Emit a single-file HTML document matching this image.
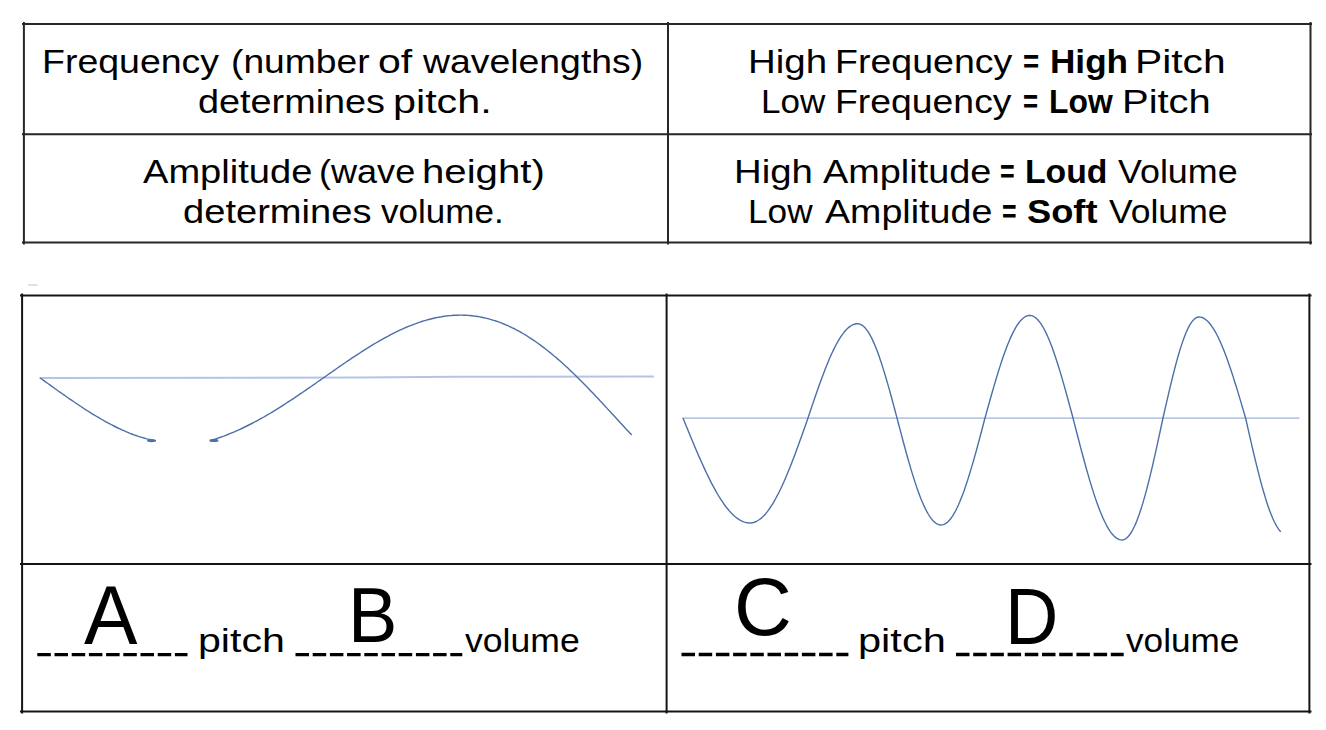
<!DOCTYPE html>
<html><head><meta charset="utf-8"><style>
html,body{margin:0;padding:0;background:#fff;width:1326px;height:730px;overflow:hidden}
.t{position:absolute;white-space:nowrap;font-family:"Liberation Sans",sans-serif;line-height:1;color:#000;transform-origin:0 0}
b{font-weight:bold}
</style></head><body>
<svg width="1326" height="730" viewBox="0 0 1326 730" style="position:absolute;left:0;top:0"><g stroke="#262626" stroke-width="2" fill="none">
<path d="M22,24 H1312 M22,134.2 H1312 M22,242.4 H1312"/>
<path d="M23.9,22 V244.4 M668,22 V244.4 M1310.5,22 V244.4"/>
</g>
<g stroke="#141414" stroke-width="2" fill="none">
<path d="M20,295.5 H1311.5 M20,564 H1311.5 M20,711.6 H1311.5"/>
<path d="M22.1,293.5 V713.6 M666.6,293.5 V713.6 M1309.4,293.5 V713.6"/>
</g>
<path d="M39.5,377.9 L360,377.6 L457,376.8 L653.9,376.5" stroke="#b2c6e4" stroke-width="2" fill="none"/>
<path d="M682.5,418.1 L1299.4,418.1" stroke="#b6cae8" stroke-width="1.8" fill="none"/>
<path d="M39.9,377.8 L41.9,379.2 L43.9,380.6 L45.9,382.1 L47.9,383.5 L49.9,384.9 L51.9,386.4 L53.9,387.8 L55.9,389.2 L57.9,390.7 L59.9,392.1 L61.9,393.5 L63.9,394.9 L65.9,396.3 L67.9,397.7 L69.9,399.1 L71.9,400.4 L73.9,401.8 L75.9,403.2 L77.9,404.5 L79.9,405.8 L81.9,407.2 L83.9,408.5 L85.9,409.8 L87.9,411.0 L89.9,412.3 L91.9,413.6 L93.9,414.8 L95.9,416.0 L97.9,417.2 L99.9,418.4 L101.9,419.5 L103.9,420.7 L105.9,421.8 L107.9,422.9 L109.9,423.9 L111.9,425.0 L113.9,426.0 L115.9,427.0 L117.9,428.0 L119.9,428.9 L121.9,429.9 L123.9,430.7 L125.9,431.6 L127.9,432.4 L129.9,433.3 L131.9,434.0 L133.9,434.8 L135.9,435.5 L137.9,436.2 L139.9,436.8 L141.9,437.4 L143.9,438.0 L145.9,438.6 L147.9,439.1 L149.9,439.5 L151.9,440.0 L153.9,440.4 L155.8,440.7" stroke="#4d6fa9" stroke-width="1.4" fill="none"/>
<path d="M209.8,440.8 L211.8,440.2 L213.8,439.6 L215.8,438.9 L217.8,438.2 L219.8,437.5 L221.8,436.8 L223.8,436.1 L225.8,435.3 L227.8,434.5 L229.8,433.7 L231.8,432.9 L233.8,432.1 L235.8,431.2 L237.8,430.3 L239.8,429.4 L241.8,428.5 L243.8,427.5 L245.8,426.5 L247.8,425.5 L249.8,424.5 L251.8,423.5 L253.8,422.5 L255.8,421.4 L257.8,420.3 L259.8,419.2 L261.8,418.1 L263.8,417.0 L265.8,415.8 L267.8,414.7 L269.8,413.5 L271.8,412.3 L273.8,411.1 L275.8,409.9 L277.8,408.6 L279.8,407.4 L281.8,406.1 L283.8,404.8 L285.8,403.5 L287.8,402.2 L289.8,400.9 L291.8,399.6 L293.8,398.3 L295.8,396.9 L297.8,395.6 L299.8,394.2 L301.8,392.9 L303.8,391.5 L305.8,390.1 L307.8,388.7 L309.8,387.4 L311.8,386.0 L313.8,384.6 L315.8,383.2 L317.8,381.8 L319.8,380.4 L321.8,379.0 L323.8,377.6 L325.8,376.2 L327.8,374.8 L329.8,373.4 L331.8,372.0 L333.8,370.6 L335.8,369.2 L337.8,367.8 L339.8,366.4 L341.8,365.0 L343.8,363.7 L345.8,362.3 L347.8,360.9 L349.8,359.6 L351.8,358.2 L353.8,356.9 L355.8,355.6 L357.8,354.3 L359.8,353.0 L361.8,351.7 L363.8,350.4 L365.8,349.1 L367.8,347.9 L369.8,346.6 L371.8,345.4 L373.8,344.2 L375.8,343.0 L377.8,341.9 L379.8,340.7 L381.8,339.6 L383.8,338.4 L385.8,337.3 L387.8,336.3 L389.8,335.2 L391.8,334.2 L393.8,333.1 L395.8,332.2 L397.8,331.2 L399.8,330.2 L401.8,329.3 L403.8,328.4 L405.8,327.5 L407.8,326.7 L409.8,325.9 L411.8,325.1 L413.8,324.3 L415.8,323.6 L417.8,322.8 L419.8,322.2 L421.8,321.5 L423.8,320.9 L425.8,320.3 L427.8,319.7 L429.8,319.2 L431.8,318.7 L433.8,318.2 L435.8,317.8 L437.8,317.4 L439.8,317.0 L441.8,316.7 L443.8,316.3 L445.8,316.1 L447.8,315.8 L449.8,315.6 L451.8,315.5 L453.8,315.3 L455.8,315.2 L457.8,315.2 L459.8,315.1 L461.8,315.1 L463.8,315.2 L465.8,315.3 L467.8,315.4 L469.8,315.5 L471.8,315.7 L473.8,316.0 L475.8,316.2 L477.8,316.5 L479.8,316.9 L481.8,317.3 L483.8,317.7 L485.8,318.1 L487.8,318.6 L489.8,319.2 L491.8,319.8 L493.8,320.4 L495.8,321.0 L497.8,321.7 L499.8,322.4 L501.8,323.2 L503.8,324.0 L505.8,324.8 L507.8,325.7 L509.8,326.6 L511.8,327.6 L513.8,328.5 L515.8,329.6 L517.8,330.6 L519.8,331.7 L521.8,332.9 L523.8,334.0 L525.8,335.2 L527.8,336.5 L529.8,337.8 L531.8,339.1 L533.8,340.4 L535.8,341.8 L537.8,343.2 L539.8,344.6 L541.8,346.1 L543.8,347.6 L545.8,349.2 L547.8,350.8 L549.8,352.4 L551.8,354.0 L553.8,355.7 L555.8,357.3 L557.8,359.1 L559.8,360.8 L561.8,362.6 L563.8,364.4 L565.8,366.2 L567.8,368.1 L569.8,370.0 L571.8,371.9 L573.8,373.8 L575.8,375.7 L577.8,377.7 L579.8,379.7 L581.8,381.7 L583.8,383.7 L585.8,385.8 L587.8,387.8 L589.8,389.9 L591.8,392.0 L593.8,394.1 L595.8,396.2 L597.8,398.3 L599.8,400.5 L601.8,402.6 L603.8,404.8 L605.8,406.9 L607.8,409.1 L609.8,411.3 L611.8,413.5 L613.8,415.6 L615.8,417.8 L617.8,420.0 L619.8,422.2 L621.8,424.3 L623.8,426.5 L625.8,428.7 L627.8,430.8 L629.8,433.0 L631.7,435.0" stroke="#4d6fa9" stroke-width="1.4" fill="none"/>
<path d="M683.0,418.0 L684.5,421.7 L686.0,425.4 L687.5,429.1 L689.0,432.7 L690.5,436.4 L692.0,440.0 L693.5,443.6 L695.0,447.2 L696.5,450.7 L698.0,454.2 L699.5,457.6 L701.0,461.0 L702.5,464.3 L704.0,467.6 L705.5,470.9 L707.0,474.0 L708.5,477.1 L710.0,480.1 L711.5,483.1 L713.0,485.9 L714.5,488.7 L716.0,491.4 L717.5,494.0 L719.0,496.5 L720.5,498.9 L722.0,501.2 L723.5,503.4 L725.0,505.5 L726.5,507.5 L728.0,509.3 L729.5,511.1 L731.0,512.8 L732.5,514.3 L734.0,515.7 L735.5,517.0 L737.0,518.2 L738.5,519.2 L740.0,520.1 L741.5,520.9 L743.0,521.6 L744.5,522.1 L746.0,522.5 L747.5,522.8 L749.0,523.0 L750.5,523.0 L752.0,522.8 L753.5,522.5 L755.0,522.0 L756.5,521.4 L758.0,520.5 L759.5,519.5 L761.0,518.4 L762.5,517.0 L764.0,515.5 L765.5,513.9 L767.0,512.1 L768.5,510.1 L770.0,508.0 L771.5,505.7 L773.0,503.3 L774.5,500.7 L776.0,498.0 L777.5,495.2 L779.0,492.2 L780.5,489.2 L782.0,486.0 L783.5,482.7 L785.0,479.3 L786.5,475.7 L788.0,472.1 L789.5,468.4 L791.0,464.7 L792.5,460.8 L794.0,456.9 L795.5,452.9 L797.0,448.8 L798.5,444.7 L800.0,440.6 L801.5,436.4 L803.0,432.2 L804.5,427.9 L806.0,423.7 L807.5,419.4 L808.0,418.0 L809.5,413.5 L811.0,409.1 L812.5,404.6 L814.0,400.2 L815.5,395.8 L817.0,391.5 L818.5,387.2 L820.0,383.0 L821.5,378.9 L823.0,374.9 L824.5,370.9 L826.0,367.1 L827.5,363.4 L829.0,359.8 L830.5,356.3 L832.0,353.0 L833.5,349.9 L835.0,346.8 L836.5,344.0 L838.0,341.3 L839.5,338.8 L841.0,336.4 L842.5,334.3 L844.0,332.3 L845.5,330.5 L847.0,329.0 L848.5,327.6 L850.0,326.4 L851.5,325.5 L853.0,324.7 L854.5,324.2 L856.0,323.8 L857.5,323.7 L859.0,323.8 L860.5,324.3 L862.0,325.1 L863.5,326.3 L865.0,327.8 L866.5,329.6 L868.0,331.7 L869.5,334.1 L871.0,336.8 L872.5,339.9 L874.0,343.1 L875.5,346.7 L877.0,350.5 L878.5,354.6 L880.0,358.9 L881.5,363.4 L883.0,368.1 L884.5,372.9 L886.0,378.0 L887.5,383.1 L889.0,388.4 L890.5,393.8 L892.0,399.3 L893.5,404.9 L895.0,410.5 L896.5,416.1 L897.0,418.0 L898.5,423.7 L900.0,429.4 L901.5,435.1 L903.0,440.7 L904.5,446.3 L906.0,451.8 L907.5,457.2 L909.0,462.4 L910.5,467.6 L912.0,472.6 L913.5,477.4 L915.0,482.1 L916.5,486.6 L918.0,490.9 L919.5,495.0 L921.0,498.9 L922.5,502.5 L924.0,505.9 L925.5,509.0 L927.0,511.9 L928.5,514.5 L930.0,516.9 L931.5,518.9 L933.0,520.7 L934.5,522.1 L936.0,523.3 L937.5,524.2 L939.0,524.7 L940.5,525.0 L942.0,524.9 L943.5,524.6 L945.0,523.9 L946.5,522.9 L948.0,521.7 L949.5,520.1 L951.0,518.3 L952.5,516.1 L954.0,513.7 L955.5,511.0 L957.0,508.0 L958.5,504.8 L960.0,501.3 L961.5,497.6 L963.0,493.7 L964.5,489.5 L966.0,485.1 L967.5,480.6 L969.0,475.8 L970.5,470.9 L972.0,465.9 L973.5,460.7 L975.0,455.4 L976.5,450.0 L978.0,444.5 L979.5,438.9 L981.0,433.2 L982.5,427.5 L984.0,421.8 L985.0,418.0 L986.5,412.6 L988.0,407.2 L989.5,401.8 L991.0,396.5 L992.5,391.3 L994.0,386.1 L995.5,381.0 L997.0,376.0 L998.5,371.1 L1000.0,366.4 L1001.5,361.8 L1003.0,357.3 L1004.5,353.1 L1006.0,349.0 L1007.5,345.1 L1009.0,341.4 L1010.5,337.9 L1012.0,334.6 L1013.5,331.6 L1015.0,328.8 L1016.5,326.2 L1018.0,324.0 L1019.5,321.9 L1021.0,320.2 L1022.5,318.7 L1024.0,317.5 L1025.5,316.5 L1027.0,315.9 L1028.5,315.5 L1030.0,315.4 L1031.5,315.6 L1033.0,316.1 L1034.5,317.0 L1036.0,318.1 L1037.5,319.5 L1039.0,321.2 L1040.5,323.2 L1042.0,325.4 L1043.5,328.0 L1045.0,330.8 L1046.5,333.9 L1048.0,337.2 L1049.5,340.7 L1051.0,344.5 L1052.5,348.5 L1054.0,352.7 L1055.5,357.2 L1057.0,361.7 L1058.5,366.5 L1060.0,371.4 L1061.5,376.4 L1063.0,381.6 L1064.5,386.9 L1066.0,392.2 L1067.5,397.7 L1069.0,403.2 L1070.5,408.7 L1072.0,414.3 L1073.0,418.0 L1074.5,423.9 L1076.0,429.7 L1077.5,435.5 L1079.0,441.3 L1080.5,447.1 L1082.0,452.7 L1083.5,458.3 L1085.0,463.8 L1086.5,469.2 L1088.0,474.4 L1089.5,479.6 L1091.0,484.6 L1092.5,489.4 L1094.0,494.1 L1095.5,498.6 L1097.0,502.9 L1098.5,507.0 L1100.0,510.9 L1101.5,514.6 L1103.0,518.1 L1104.5,521.3 L1106.0,524.3 L1107.5,527.1 L1109.0,529.6 L1110.5,531.8 L1112.0,533.8 L1113.5,535.5 L1115.0,536.9 L1116.5,538.1 L1118.0,539.0 L1119.5,539.6 L1121.0,539.9 L1122.5,540.0 L1124.0,539.6 L1125.5,538.9 L1127.0,537.8 L1128.5,536.2 L1130.0,534.3 L1131.5,532.0 L1133.0,529.3 L1134.5,526.3 L1136.0,522.9 L1137.5,519.1 L1139.0,515.0 L1140.5,510.6 L1142.0,505.9 L1143.5,500.9 L1145.0,495.6 L1146.5,490.1 L1148.0,484.3 L1149.5,478.3 L1151.0,472.1 L1152.5,465.8 L1154.0,459.2 L1155.5,452.6 L1157.0,445.8 L1158.5,438.9 L1160.0,432.0 L1161.5,425.0 L1163.0,418.0 L1164.5,411.4 L1166.0,404.8 L1167.5,398.3 L1169.0,391.9 L1170.5,385.5 L1172.0,379.3 L1173.5,373.3 L1175.0,367.5 L1176.5,361.9 L1178.0,356.5 L1179.5,351.4 L1181.0,346.6 L1182.5,342.1 L1184.0,337.9 L1185.5,334.0 L1187.0,330.5 L1188.5,327.4 L1190.0,324.7 L1191.5,322.4 L1193.0,320.4 L1194.5,318.9 L1196.0,317.9 L1197.5,317.2 L1199.0,317.0 L1200.5,317.1 L1202.0,317.5 L1203.5,318.2 L1205.0,319.1 L1206.5,320.2 L1208.0,321.6 L1209.5,323.3 L1211.0,325.2 L1212.5,327.3 L1214.0,329.6 L1215.5,332.2 L1217.0,335.0 L1218.5,338.0 L1220.0,341.3 L1221.5,344.7 L1223.0,348.3 L1224.5,352.1 L1226.0,356.0 L1227.5,360.1 L1229.0,364.4 L1230.5,368.8 L1232.0,373.3 L1233.5,377.9 L1235.0,382.7 L1236.5,387.5 L1238.0,392.4 L1239.5,397.4 L1241.0,402.4 L1242.5,407.5 L1244.0,412.6 L1245.5,417.7 L1245.6,418.0 L1247.1,424.7 L1248.6,431.3 L1250.1,437.9 L1251.6,444.4 L1253.1,450.8 L1254.6,457.2 L1256.1,463.4 L1257.6,469.4 L1259.1,475.3 L1260.6,481.1 L1262.1,486.6 L1263.6,491.8 L1265.1,496.9 L1266.6,501.7 L1268.1,506.2 L1269.6,510.4 L1271.1,514.3 L1272.6,518.0 L1274.1,521.3 L1275.6,524.2 L1277.1,526.8 L1278.6,529.1 L1280.1,531.0 L1280.5,532.0" stroke="#4d6fa9" stroke-width="1.4" fill="none" stroke-linejoin="round"/>
<ellipse cx="151.5" cy="440.6" rx="4.5" ry="1.7" fill="#4d6fa9"/>
<ellipse cx="214" cy="440.4" rx="4.5" ry="1.7" fill="#4d6fa9"/>
<path d="M37.3,654.7 H187.5" stroke="#000" stroke-width="3.3" stroke-dasharray="13.5 3.7" fill="none"/>
<path d="M295.5,654.7 H462.3" stroke="#000" stroke-width="3.3" stroke-dasharray="13.5 3.7" fill="none"/>
<path d="M681.5,654.5 H848.4" stroke="#000" stroke-width="3.3" stroke-dasharray="13.5 3.7" fill="none"/>
<path d="M956,654.5 H1123.7" stroke="#000" stroke-width="3.3" stroke-dasharray="13.5 3.7" fill="none"/>
<path d="M28,285 H37.5" stroke="#cfc7bd" stroke-width="1.1"/></svg>
<div class="t" style="left:42.49px;top:43.60px;font-size:34px;transform:scaleX(1.1025)">Frequency</div>
<div class="t" style="left:230.71px;top:43.60px;font-size:34px;transform:scaleX(1.0944)">(number</div>
<div class="t" style="left:378.29px;top:43.60px;font-size:34px;transform:scaleX(1.2071)">of</div>
<div class="t" style="left:422.90px;top:43.60px;font-size:34px;transform:scaleX(1.0990)">wavelengths)</div>
<div class="t" style="left:198.29px;top:83.80px;font-size:34px;transform:scaleX(1.1120)">determines</div>
<div class="t" style="left:393.27px;top:83.80px;font-size:34px;transform:scaleX(1.2145)">pitch.</div>
<div class="t" style="left:748.41px;top:43.60px;font-size:34px;transform:scaleX(1.1308)">High</div>
<div class="t" style="left:834.69px;top:43.60px;font-size:34px;transform:scaleX(1.1038)">Frequency</div>
<div class="t" style="left:1023.28px;top:43.60px;font-size:34px;transform:scaleX(0.8167)"><b>=</b></div>
<div class="t" style="left:1049.53px;top:43.60px;font-size:34px;transform:scaleX(1.0333)"><b>High</b></div>
<div class="t" style="left:1135.20px;top:43.60px;font-size:34px;transform:scaleX(1.2000)">Pitch</div>
<div class="t" style="left:760.71px;top:84.00px;font-size:34px;transform:scaleX(1.0305)">Low</div>
<div class="t" style="left:835.00px;top:84.00px;font-size:34px;transform:scaleX(1.0987)">Frequency</div>
<div class="t" style="left:1023.34px;top:84.00px;font-size:34px;transform:scaleX(0.7611)"><b>=</b></div>
<div class="t" style="left:1048.73px;top:84.00px;font-size:34px;transform:scaleX(0.9364)"><b>Low</b></div>
<div class="t" style="left:1122.48px;top:84.00px;font-size:34px;transform:scaleX(1.1746)">Pitch</div>
<div class="t" style="left:142.80px;top:153.90px;font-size:34px;transform:scaleX(1.1200)">Amplitude</div>
<div class="t" style="left:318.88px;top:153.90px;font-size:34px;transform:scaleX(1.0609)">(wave</div>
<div class="t" style="left:422.44px;top:153.90px;font-size:34px;transform:scaleX(1.1810)">height)</div>
<div class="t" style="left:183.38px;top:194.10px;font-size:34px;transform:scaleX(1.1205)">determines</div>
<div class="t" style="left:380.70px;top:194.10px;font-size:34px;transform:scaleX(1.0302)">volume.</div>
<div class="t" style="left:733.72px;top:153.70px;font-size:34px;transform:scaleX(1.1277)">High</div>
<div class="t" style="left:822.60px;top:153.70px;font-size:34px;transform:scaleX(1.1133)">Amplitude</div>
<div class="t" style="left:999.76px;top:153.70px;font-size:34px;transform:scaleX(0.7389)"><b>=</b></div>
<div class="t" style="left:1025.02px;top:153.70px;font-size:34px;transform:scaleX(0.9924)"><b>Loud</b></div>
<div class="t" style="left:1117.60px;top:153.70px;font-size:34px;transform:scaleX(1.0545)">Volume</div>
<div class="t" style="left:748.09px;top:194.10px;font-size:34px;transform:scaleX(1.0356)">Low</div>
<div class="t" style="left:824.50px;top:194.10px;font-size:34px;transform:scaleX(1.1067)">Amplitude</div>
<div class="t" style="left:1001.87px;top:194.10px;font-size:34px;transform:scaleX(0.7333)"><b>=</b></div>
<div class="t" style="left:1026.93px;top:194.10px;font-size:34px;transform:scaleX(1.0662)"><b>Soft</b></div>
<div class="t" style="left:1108.50px;top:194.10px;font-size:34px;transform:scaleX(1.0446)">Volume</div>
<div class="t" style="left:198.08px;top:623.40px;font-size:34px;transform:scaleX(1.2088)">pitch</div>
<div class="t" style="left:465.00px;top:623.40px;font-size:34px;transform:scaleX(1.0463)">volume</div>
<div class="t" style="left:858.36px;top:623.40px;font-size:34px;transform:scaleX(1.2221)">pitch</div>
<div class="t" style="left:1126.30px;top:623.40px;font-size:34px;transform:scaleX(1.0343)">volume</div>
<div class="t" style="left:84.30px;top:574.00px;font-size:80px;transform:scale(1.0019,1.0418)">A</div>
<div class="t" style="left:347.96px;top:577.28px;font-size:76px;transform:scale(0.9732,1.0113)">B</div>
<div class="t" style="left:733.59px;top:566.86px;font-size:78px;transform:scale(1.0265,1.0364)">C</div>
<div class="t" style="left:1005.09px;top:577.66px;font-size:75px;transform:scale(0.9844,1.0529)">D</div>
</body></html>
